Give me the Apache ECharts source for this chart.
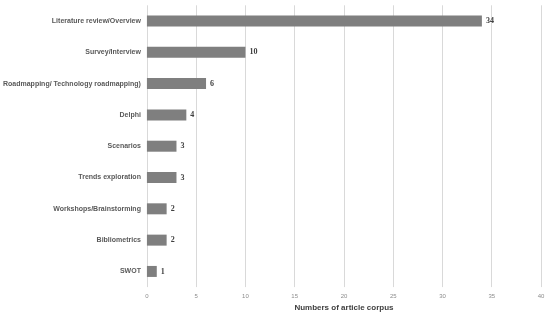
<!DOCTYPE html>
<html><head><meta charset="utf-8">
<script src="https://cdn.jsdelivr.net/npm/echarts@6/dist/echarts.min.js"></script>
<style>html,body{margin:0;padding:0;background:#fff}#c{width:550px;height:317px}</style>
</head><body><div id="c"></div>
<script>
const categories = ["Literature review/Overview","Survey/Interview","Roadmapping/ Technology roadmapping)","Delphi","Scenarios","Trends exploration","Workshops/Brainstorming","Bibliometrics","SWOT"];
const values = [34,10,6,4,3,3,2,2,1];
const xTicks = [0,5,10,15,20,25,30,35,40];
const chart = echarts.init(document.getElementById('c'));
chart.setOption({
  animation:false,
  grid:{left:145.5,right:9,top:5.3,bottom:29.6,containLabel:false},
  xAxis:{type:'value',min:0,max:40,interval:5,
    name:'Numbers of article corpus',nameLocation:'middle',nameGap:13,
    nameTextStyle:{fontFamily:'Liberation Sans',fontWeight:'bold',fontSize:8,color:'#404040'},
    axisLine:{show:false},axisTick:{show:false},
    axisLabel:{fontSize:6,color:'#8c8c8c',margin:6,fontFamily:'Liberation Sans'},
    splitLine:{show:true,lineStyle:{color:'#d9d9d9',width:1}}
  },
  yAxis:{type:'category',data:categories,inverse:true,
    axisLine:{show:false},axisTick:{show:false},
    axisLabel:{fontSize:7,fontWeight:'bold',color:'#595959',margin:6,fontFamily:'Liberation Sans'}
  },
  series:[{type:'bar',data:values,barWidth:11,itemStyle:{color:'#7f7f7f'},
    label:{show:true,position:'right',distance:4,fontFamily:'Liberation Serif',fontWeight:'bold',fontSize:8,color:'#404040'}
  }]
});
</script></body></html>
